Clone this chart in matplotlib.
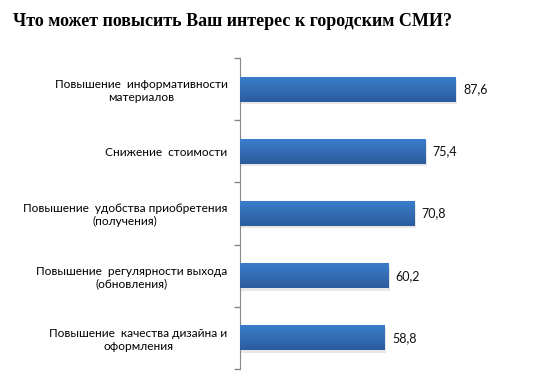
import numpy as np
import matplotlib.pyplot as plt
from matplotlib.colors import LinearSegmentedColormap

categories = [
    "Повышение  информативности\nматериалов",
    "Снижение  стоимости",
    "Повышение  удобства приобретения\n(получения)",
    "Повышение  регулярности выхода\n(обновления)",
    "Повышение  качества дизайна и\nоформления",
]
values = [87.6, 75.4, 70.8, 60.2, 58.8]
value_labels = ["87,6", "75,4", "70,8", "60,2", "58,8"]

fig = plt.figure(figsize=(5.36, 3.89), dpi=100)
ax = fig.add_axes([240 / 536, 1 - 369 / 389, 246 / 536, 311 / 389])

y = np.arange(len(categories))
grad = LinearSegmentedColormap.from_list("g", ["#3b7dcc", "#2c5c9c"])
bar_h = 0.4

# shadow + gradient bars
ax.barh(y + 0.04, values, height=bar_h, left=0.6, color="#d0d0d0", alpha=0.5, zorder=1)
bars = ax.barh(y, values, height=bar_h, color="#3470bb", zorder=2)
g = np.linspace(0, 1, 50).reshape(-1, 1)
for b in bars:
    x0, y0 = b.get_x(), b.get_y()
    ax.imshow(g, cmap=grad, aspect="auto", zorder=3,
              extent=(x0, x0 + b.get_width(), y0 + b.get_height(), y0))

for yi, v, lab in zip(y, values, value_labels):
    ax.text(v + 3, yi, lab, va="center", ha="left", fontsize=9,
            family="Lato", color="#111111")

ax.set_xlim(0, 100)
ax.set_ylim(len(categories) - 0.5, -0.5)
ax.set_yticks(y)
ax.set_yticklabels(categories, fontsize=8.6, family="Lato", multialignment="center")
ax.tick_params(axis="y", length=0, pad=9)
ax.set_yticks(np.arange(len(categories) + 1) - 0.5, minor=True)
ax.tick_params(axis="y", which="minor", length=4, color="#888888", width=1)
ax.set_xticks([])
for s in ["top", "right", "bottom"]:
    ax.spines[s].set_visible(False)
ax.spines["left"].set_color("#888888")

fig.text(13 / 536, 1 - 26 / 389, "Что может повысить Ваш интерес к городским СМИ?",
         family="Liberation Serif", fontweight="bold", fontsize=13, ha="left", va="baseline")

fig.savefig("out.png", dpi=100)
